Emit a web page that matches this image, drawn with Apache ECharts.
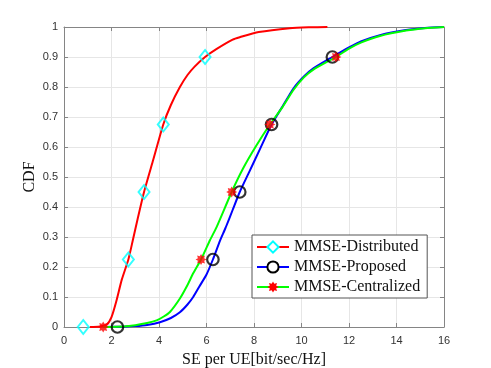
<!DOCTYPE html>
<html>
<head>
<meta charset="utf-8">
<script src="https://cdn.jsdelivr.net/npm/echarts@6/dist/echarts.min.js"></script>
<style>
  html, body { margin: 0; padding: 0; background: #fff; }
  #chart { width: 491px; height: 368px; }
</style>
</head>
<body>
<div id="chart"></div>
<script>
// CDF curves
const distributedX = [1.09, 1.5, 1.8, 2.0, 2.2, 2.43, 2.71, 2.9, 3.1, 3.37, 3.76, 4.18, 4.5, 4.88, 5.2, 5.5, 5.94, 6.43, 7.1, 7.4, 8.2, 9.5, 10.3, 11.09];
const distributedY = [0, 0.002, 0.008, 0.033, 0.085, 0.157, 0.225, 0.29, 0.36, 0.45, 0.558, 0.675, 0.74, 0.8, 0.84, 0.868, 0.9, 0.927, 0.958, 0.966, 0.983, 0.996, 0.999, 1.0];

const proposedX = [1.7, 2.5, 3.0, 3.5, 4.04, 4.5, 4.88, 5.2, 5.44, 5.7, 6.0, 6.27, 6.57, 6.8, 7.1, 7.4, 7.8, 8.25, 8.74, 9.2, 9.66, 10.1, 10.5, 11.3, 12.0, 12.5, 13.3, 14.4, 15.2, 16];
const proposedY = [0, 0.001, 0.003, 0.007, 0.016, 0.03, 0.049, 0.075, 0.1, 0.135, 0.175, 0.225, 0.288, 0.33, 0.39, 0.45, 0.517, 0.593, 0.675, 0.735, 0.795, 0.835, 0.862, 0.9, 0.932, 0.952, 0.973, 0.99, 0.997, 1.0];

const centralizedX = [1.65, 2.5, 3.0, 3.5, 3.9, 4.2, 4.46, 4.88, 5.2, 5.44, 5.77, 6.15, 6.43, 7.06, 7.55, 8.1, 8.67, 9.2, 9.66, 10.1, 10.5, 11.45, 12.0, 12.5, 13.3, 14.4, 15.2, 16];
const centralizedY = [0, 0.002, 0.006, 0.013, 0.022, 0.035, 0.05, 0.095, 0.14, 0.179, 0.225, 0.29, 0.334, 0.45, 0.53, 0.605, 0.675, 0.733, 0.79, 0.832, 0.858, 0.9, 0.928, 0.948, 0.97, 0.988, 0.996, 1.0];

// marker positions (markers sit at fixed CDF levels)
const markerLevels = [0, 0.225, 0.45, 0.675, 0.9];
const distributedMarkX = [0.81, 2.71, 3.37, 4.18, 5.94];
const proposedMarkX = [2.25, 6.27, 7.4, 8.74, 11.3];
const centralizedMarkX = [1.65, 5.77, 7.06, 8.67, 11.45];

const names = ["MMSE-Distributed", "MMSE-Proposed", "MMSE-Centralized"];

const zip = (xs, ys) => xs.map((x, i) => [x, ys[i]]);

function starPath(points, inner) {
  let d = "";
  for (let i = 0; i < points * 2; i++) {
    const a = Math.PI * i / points - Math.PI / 2;
    const r = i % 2 ? inner : 10;
    d += (i ? "L" : "M") + (r * Math.cos(a)).toFixed(2) + "," + (r * Math.sin(a)).toFixed(2);
  }
  return "path://" + d + "Z";
}
const STAR = starPath(8, 6.2);

const axisGray = "#858585";
const tickFont = { fontFamily: "Liberation Sans", fontSize: 11, color: "#333" };
const serif = "Liberation Serif";

function frameAxis(extra) {
  return Object.assign({
    type: "value",
    axisLine: { show: true, onZero: false, lineStyle: { color: axisGray, width: 1 } },
    axisTick: { show: true, inside: true, length: 4, lineStyle: { color: axisGray } },
    splitLine: { show: false },
    axisLabel: { show: false }
  }, extra);
}

const chart = echarts.init(document.getElementById("chart"));

chart.setOption({
  animation: false,
  backgroundColor: "#fff",
  grid: { left: 64, right: 47, top: 27, bottom: 41, containLabel: false, outerBoundsMode: "none" },
  xAxis: [
    frameAxis({
      min: 0, max: 16, interval: 2, position: "bottom",
      axisLabel: Object.assign({ show: true, margin: 8 }, tickFont),
      splitLine: { show: true, lineStyle: { color: "#e6e6e6", width: 1 } },
      name: "SE per UE[bit/sec/Hz]",
      nameLocation: "middle",
      nameGap: 25,
      nameMoveOverlap: false,
      nameTextStyle: { fontFamily: serif, fontSize: 16, color: "#111" }
    }),
    frameAxis({ min: 0, max: 16, interval: 2, position: "top" })
  ],
  yAxis: [
    frameAxis({
      min: 0, max: 1, interval: 0.1, position: "left",
      axisLabel: Object.assign({ show: true, margin: 6 }, tickFont),
      splitLine: { show: true, lineStyle: { color: "#e6e6e6", width: 1 } },
      name: "CDF",
      nameLocation: "middle",
      nameGap: 26,
      nameMoveOverlap: false,
      nameTextStyle: { fontFamily: serif, fontSize: 16, color: "#111" }
    }),
    frameAxis({ min: 0, max: 1, interval: 0.1, position: "right" })
  ],
  legend: {
    data: names,
    orient: "vertical",
    left: 252,
    top: 235,
    padding: [4, 7, 3, 4],
    itemGap: 4,
    itemWidth: 32,
    itemHeight: 14,
    backgroundColor: "#fff",
    borderColor: "#555",
    borderWidth: 1,
    borderRadius: 0,
    textStyle: { fontFamily: serif, fontSize: 16, color: "#111", lineHeight: 16 }
  },
  series: [
    {
      name: names[0], type: "line", data: zip(distributedX, distributedY),
      symbol: "emptyDiamond", showSymbol: false, smooth: 0.2,
      itemStyle: { color: "#00ffff" },
      lineStyle: { color: "#ff0000", width: 2 },
      z: 2
    },
    {
      name: names[1], type: "line", data: zip(proposedX, proposedY),
      symbol: "emptyCircle", showSymbol: false, smooth: 0.2,
      itemStyle: { color: "#000000" },
      lineStyle: { color: "#0000ff", width: 2 },
      z: 2
    },
    {
      name: names[2], type: "line", data: zip(centralizedX, centralizedY),
      symbol: STAR, showSymbol: false, smooth: 0.2,
      itemStyle: { color: "#ff0000" },
      lineStyle: { color: "#00ff00", width: 2 },
      z: 3
    },
    {
      type: "scatter", data: zip(distributedMarkX, markerLevels),
      symbol: "diamond", symbolSize: [11, 14],
      itemStyle: { color: "rgba(255,255,255,0)", borderColor: "#00ffff", borderWidth: 2 },
      z: 5, silent: true
    },
    {
      type: "scatter", data: zip(proposedMarkX, markerLevels),
      symbol: "circle", symbolSize: 11.5,
      itemStyle: { color: "rgba(255,255,255,0)", borderColor: "#000000", borderWidth: 2.2 },
      z: 5, silent: true
    },
    {
      type: "scatter", data: zip(centralizedMarkX, markerLevels),
      symbol: STAR, symbolSize: 11,
      itemStyle: { color: "#ff0000" },
      z: 6, silent: true
    }
  ]
});
</script>
</body>
</html>
